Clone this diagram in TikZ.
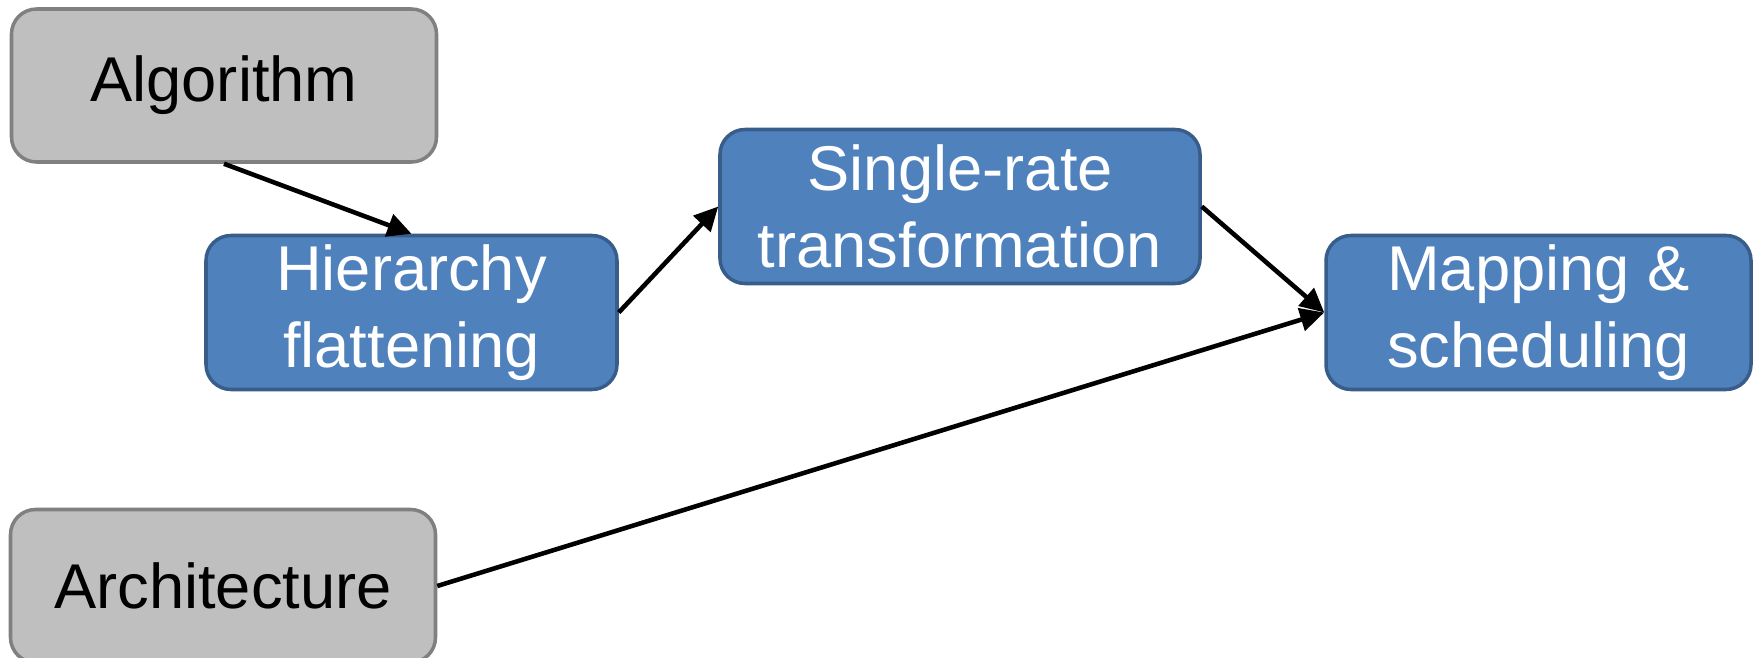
\documentclass[tikz,border=0pt]{standalone}
\usepackage{fontspec}
\setmainfont{Liberation Sans}
\usetikzlibrary{arrows.meta}
\definecolor{inputfill}{HTML}{BFBFBF}
\definecolor{inputline}{HTML}{808080}
\definecolor{stepfill}{HTML}{4F81BD}
\definecolor{stepline}{HTML}{385D8A}
\begin{document}
\begin{tikzpicture}[
    inputbox/.style={rectangle, rounded corners=0.5cm, draw=inputline, fill=inputfill,
        line width=2pt, minimum width=8.5cm, minimum height=3.06cm, text=black},
    stepbox/.style={rectangle, rounded corners=0.5cm, draw=stepline, fill=stepfill,
        line width=2pt, minimum height=3.08cm, text=white},
    flow/.style={draw, line width=2.6pt, -{Triangle[length=0.48cm,width=0.46cm]}},
    font=\fontsize{36}{44}\selectfont,
    align=center
]
\useasboundingbox (0,0) rectangle (35.12,13.16);

% Inputs
\node[inputbox] (alg) at (4.48,11.45) {Algorithm};
\node[inputbox] (arch) at (4.46,1.44) {Architecture};

% Transformation steps
\node[stepbox, minimum width=8.22cm] (flat) at (8.23,6.91) {Hierarchy\\flattening};
\node[stepbox, minimum width=9.6cm] (srate) at (19.2,9.03) {Single-rate\\transformation};
\node[stepbox, minimum width=8.5cm] (map) at (30.77,6.91) {Mapping \&\\scheduling};

% Connections
\draw[flow] (alg.south) -- (flat.north);
\draw[flow] (flat.east) -- (srate.west);
\draw[flow] (srate.east) -- (map.west);
\draw[flow] (arch.east) -- (map.west);

\end{tikzpicture}
\end{document}
